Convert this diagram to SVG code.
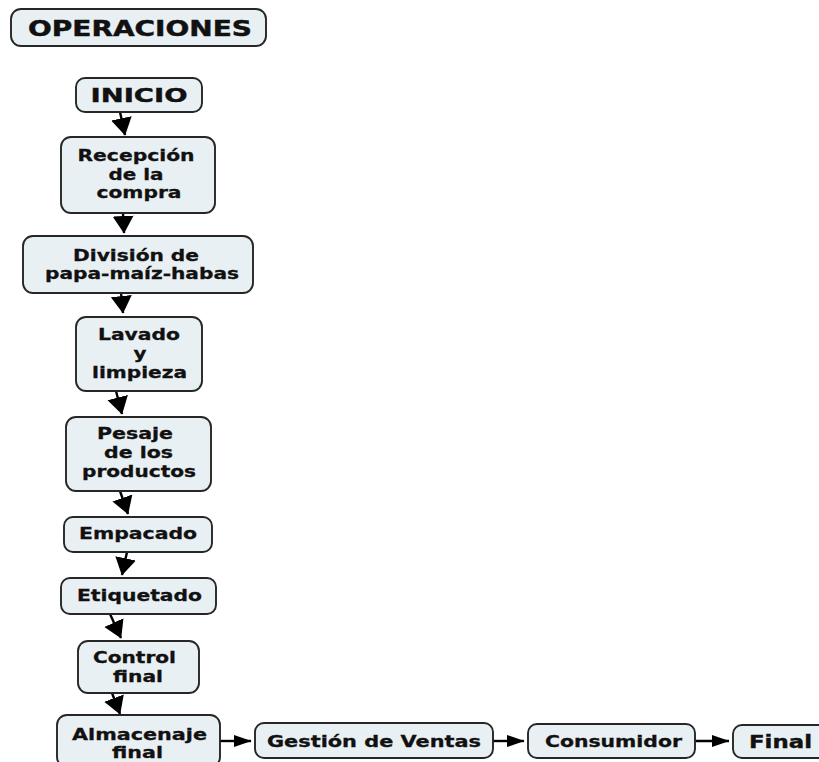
<svg xmlns="http://www.w3.org/2000/svg" width="819" height="762" viewBox="0 0 819 762">
<defs>
<style>
.box{fill:#e9f0f3;stroke:#262626;stroke-width:1.9}
.t{font-family:"DejaVu Sans","Verdana",sans-serif;font-weight:bold;font-size:16px;fill:#111;stroke:#111;stroke-width:0.3;text-anchor:middle}
.c{stroke:#000;stroke-width:2.4;fill:none}
</style>
<marker id="big" markerUnits="userSpaceOnUse" markerWidth="18" markerHeight="22" refX="17" refY="10.5" orient="auto" viewBox="0 0 18 22">
<path d="M0,0 L17.5,10.5 L0,21 z" fill="#000"/>
</marker>
<marker id="small" markerUnits="userSpaceOnUse" markerWidth="18" markerHeight="12" refX="17" refY="6" orient="auto" viewBox="0 0 18 12">
<path d="M0,0 L17.5,6 L0,12 z" fill="#000"/>
</marker>
</defs>
<rect width="819" height="762" fill="#fff"/>

<g id="connectors">
<line class="c" x1="120" y1="112" x2="125" y2="135" marker-end="url(#big)"/>
<line class="c" x1="123" y1="213" x2="124" y2="233" marker-end="url(#big)"/>
<line class="c" x1="121" y1="293" x2="123" y2="313" marker-end="url(#big)"/>
<line class="c" x1="116" y1="391" x2="122" y2="414" marker-end="url(#big)"/>
<line class="c" x1="120" y1="491" x2="128" y2="514" marker-end="url(#big)"/>
<line class="c" x1="127" y1="552" x2="122" y2="575" marker-end="url(#big)"/>
<line class="c" x1="110" y1="614" x2="121" y2="638" marker-end="url(#big)"/>
<line class="c" x1="112" y1="693" x2="120" y2="714" marker-end="url(#big)"/>
<line class="c" x1="220" y1="741" x2="251" y2="741" marker-end="url(#small)"/>
<line class="c" x1="493" y1="741" x2="524" y2="741" marker-end="url(#small)"/>
<line class="c" x1="695" y1="741" x2="729" y2="741" marker-end="url(#small)"/>
</g>

<g id="operaciones">
<rect class="box" x="11" y="9" width="255" height="37" rx="10"/>
<text class="t" x="140" y="36" style="font-size:21px;stroke-width:0.45" textLength="224" lengthAdjust="spacingAndGlyphs">OPERACIONES</text>
</g>
<g id="inicio">
<rect class="box" x="76" y="78" width="126" height="34" rx="9"/>
<text class="t" x="139" y="102" style="font-size:19px;stroke-width:0.4" textLength="97" lengthAdjust="spacingAndGlyphs">INICIO</text>
</g>
<g id="recepcion">
<rect class="box" x="61" y="137" width="154" height="76" rx="10"/>
<text class="t" x="136" y="161" textLength="117" lengthAdjust="spacingAndGlyphs">Recepción</text>
<text class="t" x="136" y="180" textLength="55" lengthAdjust="spacingAndGlyphs">de la</text>
<text class="t" x="139" y="198" textLength="85" lengthAdjust="spacingAndGlyphs">compra</text>
</g>
<g id="division">
<rect class="box" x="23" y="236" width="230" height="57" rx="10"/>
<text class="t" x="136" y="261" textLength="126" lengthAdjust="spacingAndGlyphs">División de</text>
<text class="t" x="142" y="279" textLength="194" lengthAdjust="spacingAndGlyphs">papa-maíz-habas</text>
</g>
<g id="lavado">
<rect class="box" x="76" y="317" width="126" height="74" rx="10"/>
<text class="t" x="139" y="340" textLength="82" lengthAdjust="spacingAndGlyphs">Lavado</text>
<text class="t" x="140" y="359" textLength="13" lengthAdjust="spacingAndGlyphs">y</text>
<text class="t" x="139.5" y="378" textLength="95" lengthAdjust="spacingAndGlyphs">limpieza</text>
</g>
<g id="pesaje">
<rect class="box" x="66" y="417" width="145" height="74" rx="10"/>
<text class="t" x="135" y="439" textLength="76" lengthAdjust="spacingAndGlyphs">Pesaje</text>
<text class="t" x="138.5" y="458" textLength="69" lengthAdjust="spacingAndGlyphs">de los</text>
<text class="t" x="139" y="477" textLength="114" lengthAdjust="spacingAndGlyphs">productos</text>
</g>
<g id="empacado">
<rect class="box" x="64" y="517" width="148" height="35" rx="9"/>
<text class="t" x="138" y="539" textLength="118" lengthAdjust="spacingAndGlyphs">Empacado</text>
</g>
<g id="etiquetado">
<rect class="box" x="61" y="578" width="155" height="36" rx="9"/>
<text class="t" x="139.5" y="601" textLength="125" lengthAdjust="spacingAndGlyphs">Etiquetado</text>
</g>
<g id="control">
<rect class="box" x="78" y="641" width="121" height="52" rx="10"/>
<text class="t" x="134.5" y="663" textLength="83" lengthAdjust="spacingAndGlyphs">Control</text>
<text class="t" x="138" y="682" textLength="50" lengthAdjust="spacingAndGlyphs">final</text>
</g>
<g id="almacenaje">
<rect class="box" x="57" y="715" width="163" height="52" rx="10"/>
<text class="t" x="139.5" y="740" textLength="135" lengthAdjust="spacingAndGlyphs">Almacenaje</text>
<text class="t" x="137.5" y="758" textLength="51" lengthAdjust="spacingAndGlyphs">final</text>
</g>
<g id="gestion">
<rect class="box" x="255" y="723" width="238" height="35" rx="9"/>
<text class="t" x="374" y="747" textLength="214" lengthAdjust="spacingAndGlyphs">Gestión de Ventas</text>
</g>
<g id="consumidor">
<rect class="box" x="528" y="724" width="167" height="34" rx="9"/>
<text class="t" x="613.5" y="747" textLength="137" lengthAdjust="spacingAndGlyphs">Consumidor</text>
</g>
<g id="final">
<rect class="box" x="733" y="725" width="100" height="33" rx="9"/>
<text class="t" x="780.5" y="748" style="font-size:18px;stroke-width:0.4" textLength="63" lengthAdjust="spacingAndGlyphs">Final</text>
</g>
</svg>
